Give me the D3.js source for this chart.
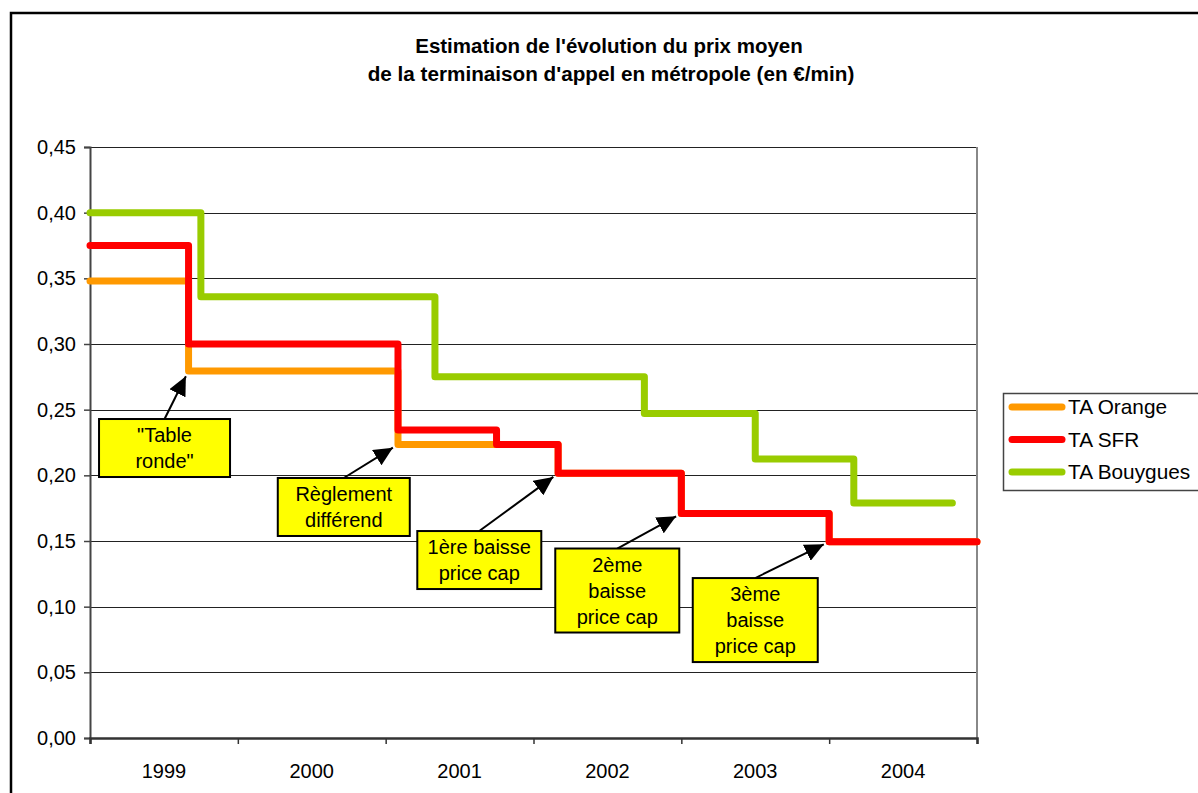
<!DOCTYPE html>
<html>
<head>
<meta charset="utf-8">
<script src="https://cdn.jsdelivr.net/npm/d3@7"></script>
<style>
    body { margin: 0; background: #fff; }
    svg { display: block; font-family: 'Liberation Sans', Arial, sans-serif; }
</style>
</head>
<body>
<svg id="chart" width="1198" height="793"></svg>
<script>
// values; x is in months since january 1999
var years = ['1999', '2000', '2001', '2002', '2003', '2004'];
var yTicks = [0, 0.05, 0.10, 0.15, 0.20, 0.25, 0.30, 0.35, 0.40, 0.45];

var seriesNames = ['TA Orange', 'TA SFR', 'TA Bouygues'];
var seriesColors = ['#ff9900', '#ff0000', '#99cc00'];

var orangeMonths = [0, 8, 25, 38, 48, 60, 72];
var orangeValues = [0.348, 0.2795, 0.2235, 0.2015, 0.171, 0.1495, 0.1495];
var sfrMonths = [0, 8, 25, 33, 38, 48, 60, 72];
var sfrValues = [0.375, 0.300, 0.2345, 0.2235, 0.2015, 0.171, 0.1495, 0.1495];
var bouyguesMonths = [0, 9, 28, 45, 54, 62, 70];
var bouyguesValues = [0.400, 0.336, 0.275, 0.247, 0.2125, 0.179, 0.179];

var noteLabels = [['"Table', 'ronde"'], ['Règlement', 'différend'], ['1ère baisse', 'price cap'],
    ['2ème', 'baisse', 'price cap'], ['3ème', 'baisse', 'price cap']];
var noteTargetMonth = [8, 25, 38, 48, 60];
var noteTargetValue = [0.2795, 0.2235, 0.2015, 0.171, 0.1495];
var noteBoxMonth = [6.05, 20.6, 31.6, 42.8, 54.0];
var noteBoxValue = [0.2208, 0.1759, 0.1355, 0.1123, 0.0898];

var svg = d3.select('#chart');
var plot = { left: 90, right: 977, top: 147, bottom: 738 };
var noteWidths = [131, 132, 124, 124, 125];

var x = d3.scaleLinear().domain([0, 72]).range([plot.left, plot.right]);
var y = d3.scaleLinear().domain([0, 0.45]).range([plot.bottom, plot.top]);
var xYear = d3.scaleBand().domain(years).range([plot.left, plot.right]);

// outer frame
svg.append('rect')
    .attr('x', 11).attr('y', 13)
    .attr('width', 1250).attr('height', 850)
    .attr('fill', 'none')
    .attr('stroke', '#000')
    .attr('stroke-width', 2.5);

// title
svg.append('text')
    .attr('x', 609).attr('y', 53)
    .attr('text-anchor', 'middle')
    .attr('font-weight', 'bold')
    .attr('font-size', 20.5)
    .text("Estimation de l'évolution du prix moyen");
svg.append('text')
    .attr('x', 611).attr('y', 81)
    .attr('text-anchor', 'middle')
    .attr('font-weight', 'bold')
    .attr('font-size', 20.7)
    .text("de la terminaison d'appel en métropole (en €/min)");

// grid
svg.append('g')
    .selectAll('line')
    .data(yTicks.slice(1))
    .join('line')
    .attr('x1', plot.left).attr('x2', plot.right)
    .attr('y1', function(d) { return Math.round(y(d)) + 0.5; })
    .attr('y2', function(d) { return Math.round(y(d)) + 0.5; })
    .attr('stroke', '#222')
    .attr('stroke-width', 1);

svg.append('line')
    .attr('x1', plot.right).attr('x2', plot.right)
    .attr('y1', plot.top).attr('y2', plot.bottom)
    .attr('stroke', '#888')
    .attr('stroke-width', 2);

// axes
var yAxis = svg.append('g')
    .attr('transform', 'translate(' + plot.left + ',0)')
    .call(d3.axisLeft(y).tickValues(yTicks).tickSize(6).tickPadding(8)
        .tickFormat(function(d) { return d3.format('.2f')(d).replace('.', ','); }));
yAxis.select('.domain').attr('stroke', '#444').attr('stroke-width', 2);
yAxis.selectAll('.tick line').attr('stroke', '#444').attr('stroke-width', 1.5);
yAxis.selectAll('text').attr('font-size', 20).attr('fill', '#000').attr('font-family', null);

var xAxis = svg.append('g')
    .attr('transform', 'translate(0,' + plot.bottom + ')')
    .call(d3.axisBottom(x).tickValues(d3.range(0, 73, 12)).tickSize(6).tickFormat(''));
xAxis.select('.domain').attr('stroke', '#333').attr('stroke-width', 2.5);
xAxis.selectAll('.tick line').attr('stroke', '#333').attr('stroke-width', 1.5);

svg.append('g')
    .selectAll('text')
    .data(years)
    .join('text')
    .attr('x', function(d) { return xYear(d) + xYear.bandwidth() / 2; })
    .attr('y', plot.bottom + 40)
    .attr('text-anchor', 'middle')
    .attr('font-size', 20)
    .text(function(d) { return d; });

// step lines
var stepLine = d3.line()
    .x(function(d) { return x(d[0]); })
    .y(function(d) { return y(d[1]); })
    .curve(d3.curveStepAfter);

var series = [
    d3.zip(orangeMonths, orangeValues),
    d3.zip(sfrMonths, sfrValues),
    d3.zip(bouyguesMonths, bouyguesValues),
];

svg.append('g')
    .selectAll('path')
    .data(series)
    .join('path')
    .attr('fill', 'none')
    .attr('stroke', function(d, i) { return seriesColors[i]; })
    .attr('stroke-width', 7)
    .attr('stroke-linejoin', 'round')
    .attr('stroke-linecap', 'round')
    .attr('d', stepLine);

// legend
var legend = svg.append('g');
legend.append('rect')
    .attr('x', 1003.5).attr('y', 393.5)
    .attr('width', 250).attr('height', 97)
    .attr('fill', '#fff')
    .attr('stroke', '#444')
    .attr('stroke-width', 1.5);
seriesNames.forEach(function(name, i) {
    var ly = 407 + i * 32.5;
    legend.append('line')
        .attr('x1', 1012).attr('x2', 1062)
        .attr('y1', ly).attr('y2', ly)
        .attr('stroke', seriesColors[i])
        .attr('stroke-width', 7)
        .attr('stroke-linecap', 'round');
    legend.append('text')
        .attr('x', 1068).attr('y', ly + 7)
        .attr('font-size', 20.8)
        .text(name);
});

// annotations
svg.append('defs').append('marker')
    .attr('id', 'head')
    .attr('viewBox', '0 0 19 18')
    .attr('refX', 19).attr('refY', 9)
    .attr('markerWidth', 19).attr('markerHeight', 18)
    .attr('markerUnits', 'userSpaceOnUse')
    .attr('orient', 'auto')
    .append('path')
    .attr('d', 'M0,0L19,9L0,18Z')
    .attr('fill', '#000');

var lineH = 26;
noteLabels.forEach(function(lines, i) {
    var cx = x(noteBoxMonth[i]);
    var cy = y(noteBoxValue[i]);
    var w = noteWidths[i];
    var h = lines.length * lineH + 6;
    var tx = x(noteTargetMonth[i]);
    var ty = y(noteTargetValue[i]);
    var sx = cx, sy = cy - h / 2;
    var len = Math.hypot(tx - sx, ty - sy);
    var ex = tx - (tx - sx) / len * 6;
    var ey = ty - (ty - sy) / len * 6;

    svg.append('line')
        .attr('x1', sx).attr('y1', sy)
        .attr('x2', ex).attr('y2', ey)
        .attr('stroke', '#000')
        .attr('stroke-width', 2);

    // draw the head on its own so the thick shaft does not poke through the tip
    svg.append('line')
        .attr('x1', sx).attr('y1', sy)
        .attr('x2', ex).attr('y2', ey)
        .attr('stroke', 'none')
        .attr('marker-end', 'url(#head)');

    svg.append('rect')
        .attr('x', cx - w / 2).attr('y', cy - h / 2)
        .attr('width', w).attr('height', h)
        .attr('fill', '#ffff00')
        .attr('stroke', '#000')
        .attr('stroke-width', 2);

    svg.append('text')
        .attr('text-anchor', 'middle')
        .attr('font-size', 20)
        .selectAll('tspan')
        .data(lines)
        .join('tspan')
        .attr('x', cx)
        .attr('y', function(d, j) { return cy - h / 2 + 3 + lineH * j + 20; })
        .text(function(d) { return d; });
});
</script>
</body>
</html>
